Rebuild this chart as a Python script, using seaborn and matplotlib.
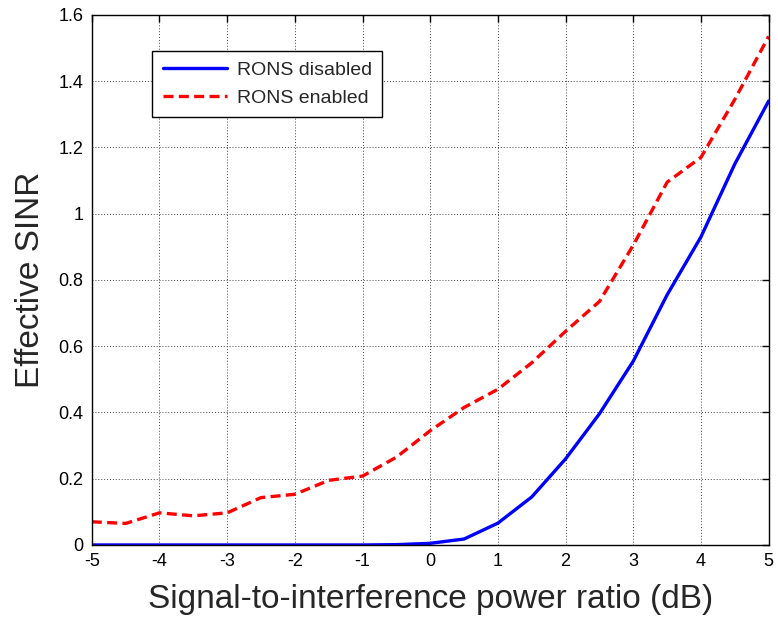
import matplotlib
matplotlib.use("Agg")
import matplotlib.pyplot as plt
import seaborn as sns
import pandas as pd
import numpy as np

sir_db = [-5, -4.5, -4, -3.5, -3, -2.5, -2, -1.5, -1, -0.5, 0, 0.5, 1, 1.5, 2, 2.5, 3, 3.5, 4, 4.5, 5]
rons_disabled = [0, 0, 0, 0, 0, 0, 0, 0, 0, 0.001, 0.005, 0.018, 0.066, 0.145, 0.26, 0.396, 0.555, 0.755, 0.93, 1.15, 1.34]
rons_enabled = [0.07, 0.065, 0.097, 0.088, 0.097, 0.143, 0.153, 0.195, 0.208, 0.265, 0.345, 0.415, 0.47, 0.55, 0.645, 0.735, 0.905, 1.095, 1.17, 1.345, 1.535]
series_names = ["RONS disabled", "RONS enabled"]
xticks = [-5, -4, -3, -2, -1, 0, 1, 2, 3, 4, 5]
yticks = [0, 0.2, 0.4, 0.6, 0.8, 1.0, 1.2, 1.4, 1.6]
ytick_labels = ["0", "0.2", "0.4", "0.6", "0.8", "1", "1.2", "1.4", "1.6"]

df = pd.DataFrame({
    "x": sir_db * 2,
    "y": rons_disabled + rons_enabled,
    "series": [series_names[0]] * len(sir_db) + [series_names[1]] * len(sir_db),
})

sns.set_theme(style="white")
plt.rcParams['font.family'] = ['Liberation Sans', 'DejaVu Sans']

fig = plt.figure(figsize=(7.78, 6.2), dpi=100)
ax = fig.add_axes([0.118, 0.121, 0.870, 0.855])

sns.lineplot(data=df, x="x", y="y", hue="series", style="series",
             palette={series_names[0]: "#0000ff", series_names[1]: "#ff0000"},
             dashes={series_names[0]: "", series_names[1]: (3, 1.6)},
             linewidth=2.4, ax=ax, legend=True)

ax.set_xlim(-5, 5)
ax.set_ylim(0, 1.6)
ax.set_xticks(xticks)
ax.set_xticklabels([str(t) for t in xticks])
ax.set_yticks(yticks)
ax.set_yticklabels(ytick_labels)
ax.tick_params(direction="in", top=True, right=True, length=5, width=1,
               labelsize=13, colors="black", pad=6)
ax.grid(True, linestyle=(0, (1, 2)), color="#444444", linewidth=0.7)
for s in ax.spines.values():
    s.set_color("black")
    s.set_linewidth(1.0)
    s.set_visible(True)

ax.set_xlabel("Signal-to-interference power ratio (dB)", fontsize=24, labelpad=10)
ax.set_ylabel("Effective SINR", fontsize=24, labelpad=9)

handles, labels = ax.get_legend_handles_labels()
leg = ax.legend(handles=handles, labels=labels, loc="upper left",
                bbox_to_anchor=(0.089, 0.932), fontsize=14, frameon=True,
                fancybox=False, edgecolor="black", framealpha=1,
                handlelength=3.3, borderpad=0.55, labelspacing=0.5,
                handletextpad=0.5, borderaxespad=0)
leg.get_frame().set_linewidth(1.0)

fig.savefig("out.png", dpi=100)
